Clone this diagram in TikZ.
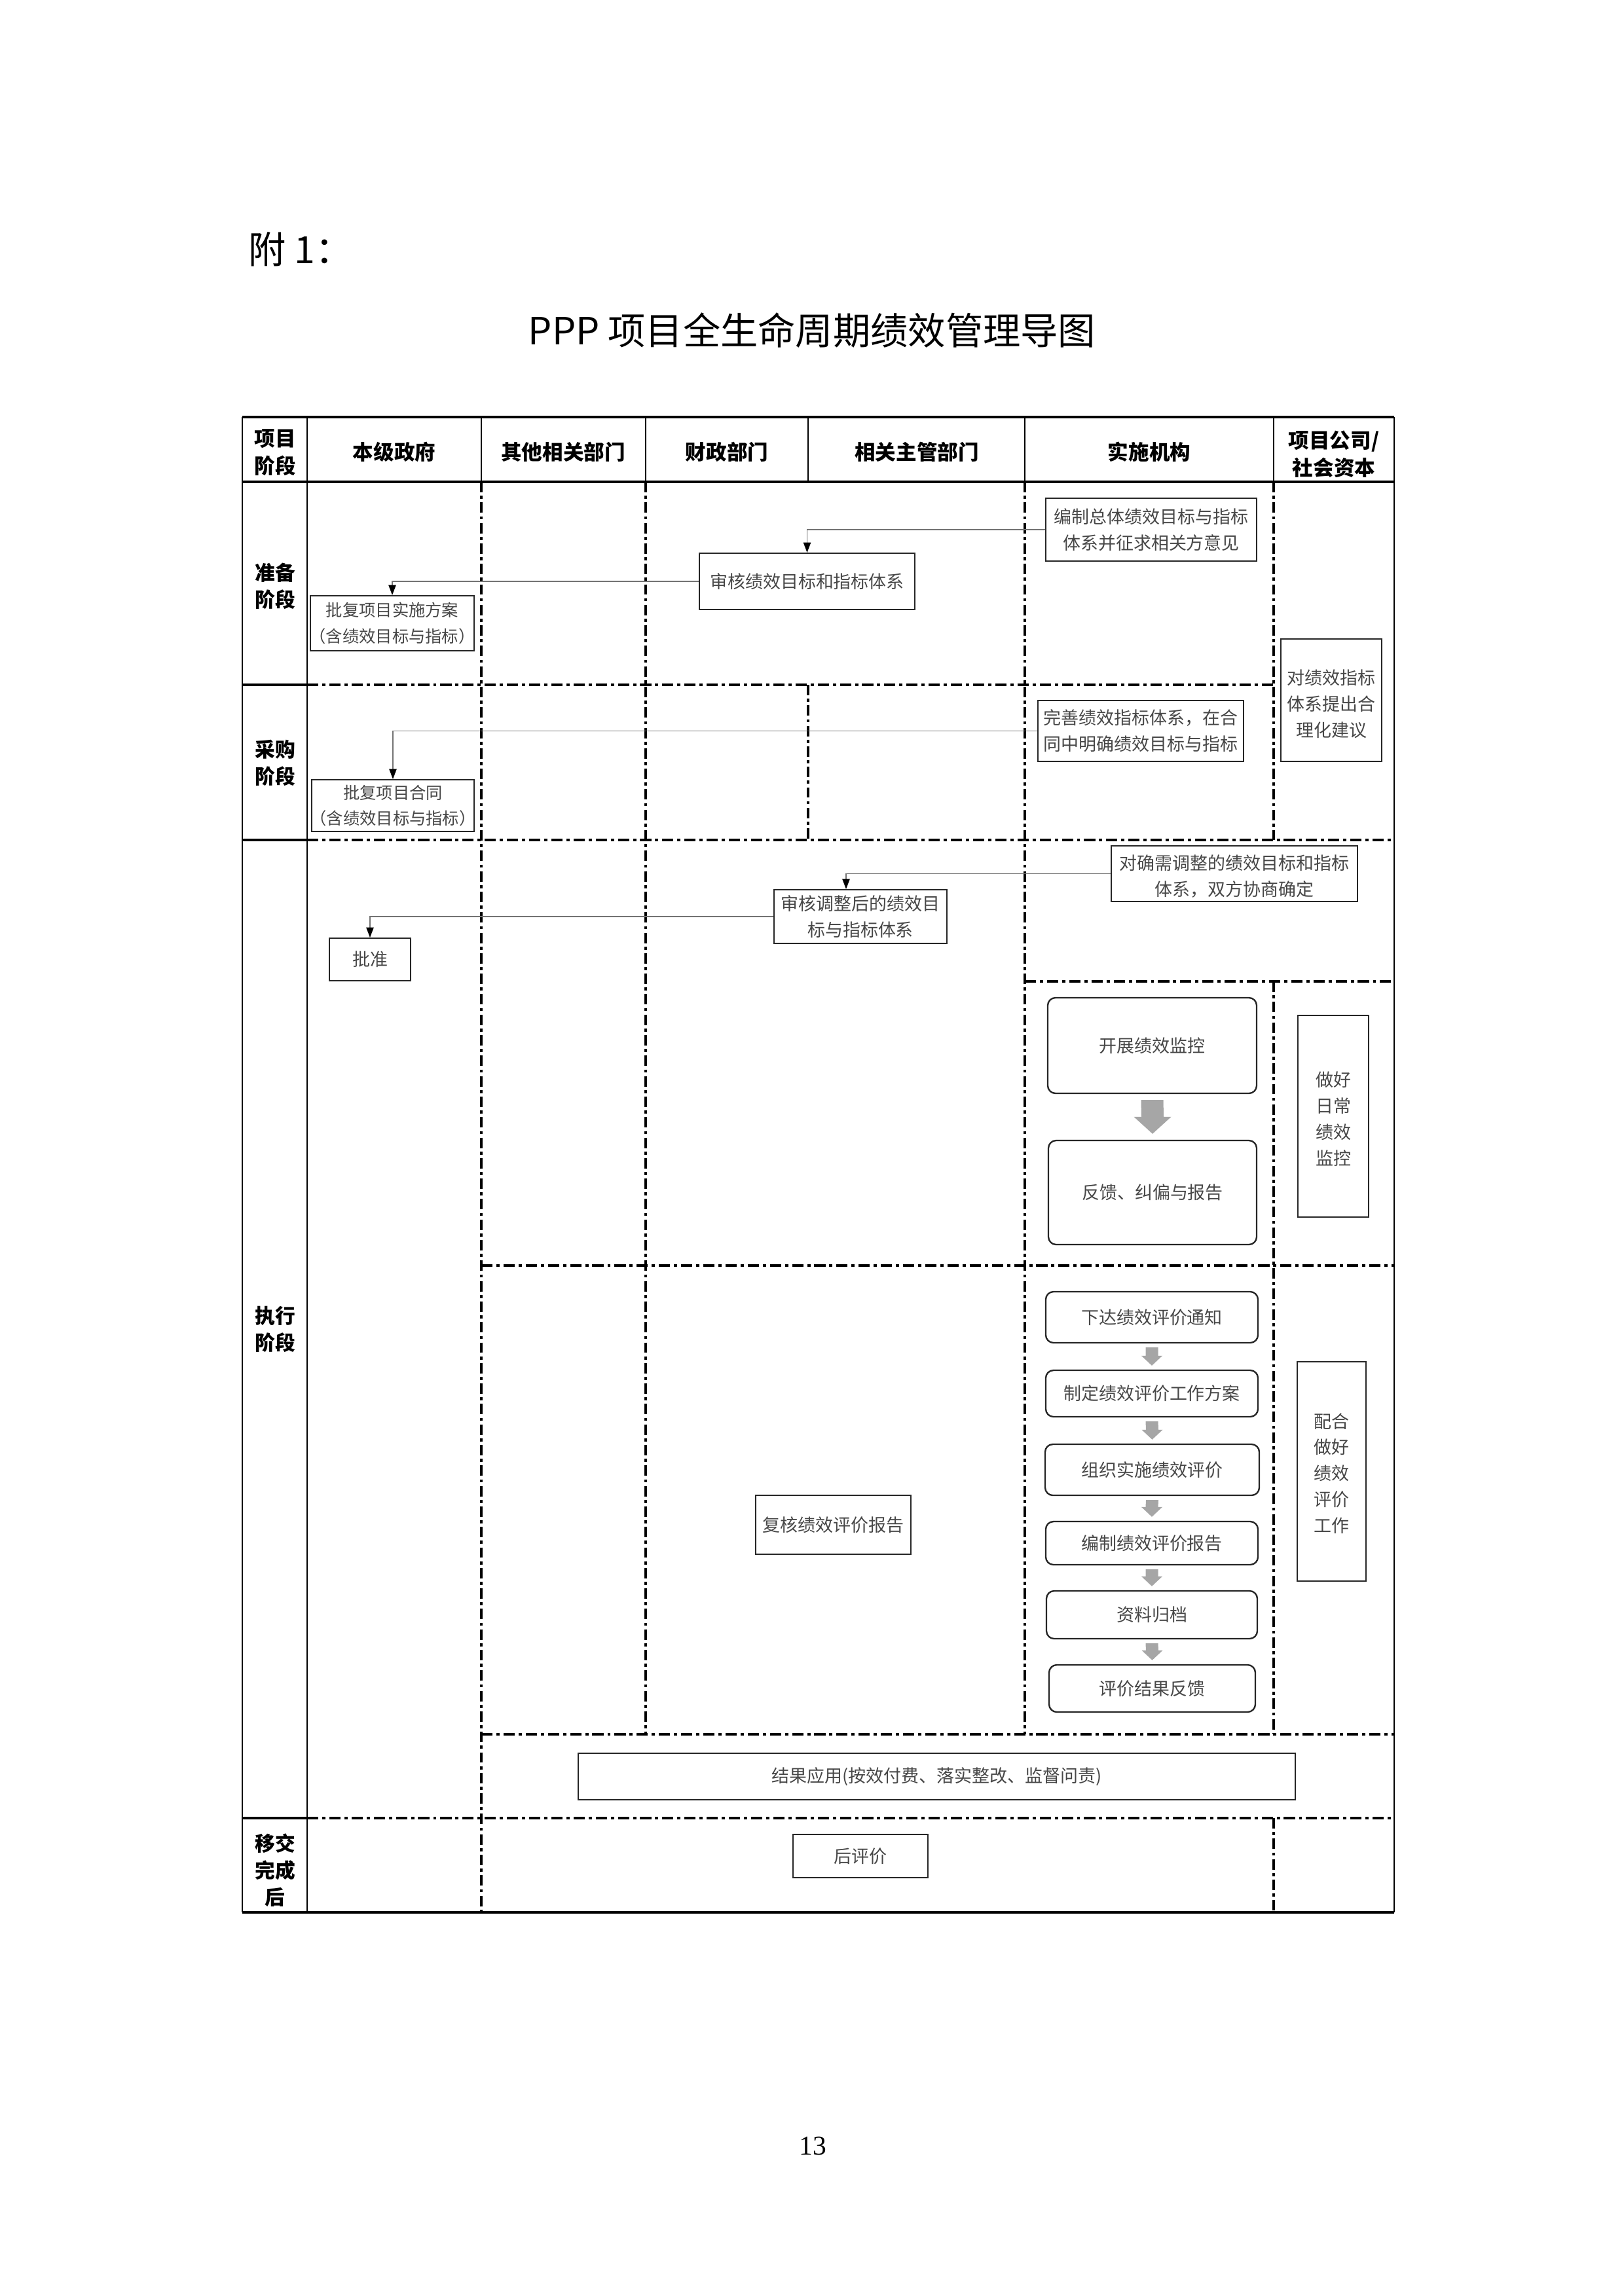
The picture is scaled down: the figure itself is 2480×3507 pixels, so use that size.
\documentclass[tikz,border=0pt]{standalone}
\usepackage{fontspec}
\setmainfont{Liberation Serif}
\newfontfamily\cjk{Noto Sans CJK SC}
\usetikzlibrary{fit,calc,arrows.meta}
\newcommand\myblk[6]{%
\fill[blk] ($(#1.south)+(-#3,#6)$) -- ($(#1.south)+(#3,#6)$) -- ($(#2.north)+(#3,-#5-#6)$) -- ($(#2.north)+(#4,-#5-#6)$) -- ($(#2.north)+(0,-#6)$) -- ($(#2.north)+(-#4,-#5-#6)$) -- ($(#2.north)+(-#3,-#5-#6)$) -- cycle;}
\begin{document}
\begin{tikzpicture}[x=0.0846774mm,y=-0.0846774mm,
  tline/.style={line width=0.28mm,black},
  vline/.style={line width=0.24mm,black},
  ddh/.style={line width=0.36mm,dash pattern=on 1.45mm off 0.5mm on 0.42mm off 0.5mm},
  ddv/.style={line width=0.28mm,dash pattern=on 1.35mm off 0.45mm on 0.4mm off 0.45mm},
  box/.style={draw=black!85,line width=0.16mm,fill=white,inner sep=0pt},
  rbox/.style={box,rounded corners=1.0mm,line width=0.2mm},
  bt/.style={font=\cjk\fontsize{6.5}{9.6}\selectfont,text=black!72,align=center,inner sep=0pt},
  hdr/.style={font=\cjk\bfseries\fontsize{7.6}{10.2}\selectfont,align=center,inner sep=0pt},
  stg/.style={font=\cjk\bfseries\fontsize{7.4}{9.9}\selectfont,align=center,inner sep=0pt},
  conn/.style={draw=black!55,line width=0.13mm,-{Triangle[width=0.95mm,length=1.3mm,color=black]}},
  blk/.style={fill=black!35}
]
\fill[white] (0,0) rectangle (2480,3507);
\useasboundingbox (0,0) rectangle (2480,3507);

% titles
\node[font=\cjk\fontsize{13.8}{16}\selectfont,anchor=west,inner sep=0pt] (fu) at (379,381) {附 1：};
\node[font=\cjk\fontsize{13.8}{16}\selectfont,inner sep=0pt] (title) at (1240,505) {PPP 项目全生命周期绩效管理导图};
\node[font=\fontsize{10}{12}\selectfont,inner sep=0pt] (pg) at (1241,3278) {13};

% dash-dot verticals
\draw[ddv] (735,736) -- (735,2921);
\draw[ddv] (986,736) -- (986,2649);
\draw[ddv] (1234,1046) -- (1234,1283);
\draw[ddv] (1565,736) -- (1565,2649);
\draw[ddv] (1945,736) -- (1945,1283);
\draw[ddv] (1945,1499) -- (1945,2649);
\draw[ddv] (1945,2777) -- (1945,2921);
% dash-dot horizontals
\draw[ddh] (469,1046) -- (1945,1046);
\draw[ddh] (469,1283) -- (2129,1283);
\draw[ddh] (1565,1499) -- (2129,1499);
\draw[ddh] (735,1933) -- (2129,1933);
\draw[ddh] (735,2649) -- (2129,2649);
\draw[ddh] (469,2777) -- (2129,2777);

% solid table lines
\draw[vline] (370,637) -- (370,2921);
\draw[vline] (469,637) -- (469,2921);
\draw[vline] (2129,637) -- (2129,2921);
\foreach \xx in {735,986,1234,1565,1945} \draw[line width=0.22mm] (\xx,637) -- (\xx,736);
\draw[tline] (370,637) -- (2129,637);
\draw[tline] (370,736) -- (2129,736);
\draw[tline] (370,2921) -- (2129,2921);
\draw[tline] (370,1046) -- (469,1046);
\draw[tline] (370,1283) -- (469,1283);
\draw[tline] (370,2777) -- (469,2777);

% header
\node[hdr] (h0) at (420,691) {项目\\阶段};
\node[hdr] (h1) at (602,690) {本级政府};
\node[hdr] (h2) at (860,690) {其他相关部门};
\node[hdr] (h3) at (1110,690) {财政部门};
\node[hdr] (h4) at (1400,690) {相关主管部门};
\node[hdr] (h5) at (1755,690) {实施机构};
\node[hdr] (h6) at (2037,694) {项目公司/\\社会资本};

% stage labels
\node[stg] (s1) at (420,895) {准备\\阶段};
\node[stg] (s2) at (420,1165) {采购\\阶段};
\node[stg] (s3) at (420,2030) {执行\\阶段};
\node[stg] (s4) at (420,2857) {移交\\完成\\后};

% boxes
\node[box,fit={(1597,761)(1919,857)}] (b1) {};
\node[bt] (t1) at (b1.center) {编制总体绩效目标与指标\\体系并征求相关方意见};
\node[box,fit={(1068,845)(1397,931)}] (b2) {};
\node[bt] (t2) at (b2.center) {审核绩效目标和指标体系};
\node[box,fit={(474,910)(724,994)}] (b3) {};
\node[bt,font=\cjk\fontsize{6.1}{9.6}\selectfont] (t3) at (b3.center) {批复项目实施方案\\（含绩效目标与指标）};
\node[box,fit={(1956,976)(2110,1163)}] (b4) {};
\node[bt] (t4) at ($(b4.center)+(0,6)$) {对绩效指标\\体系提出合\\理化建议};
\node[box,fit={(1585,1070)(1899,1163)}] (b5) {};
\node[bt] (t5) at (b5.center) {完善绩效指标体系，在合\\同中明确绩效目标与指标};
\node[box,fit={(476,1191)(724,1270)}] (b6) {};
\node[bt,font=\cjk\fontsize{6.1}{9.6}\selectfont] (t6) at (b6.center) {批复项目合同\\（含绩效目标与指标）};
\node[box,fit={(1697,1292)(2073,1377)}] (b7) {};
\node[bt] (t7) at ($(b7.center)+(0,4)$) {对确需调整的绩效目标和指标\\体系，双方协商确定};
\node[box,fit={(1182,1359)(1446,1441)}] (b8) {};
\node[bt] (t8) at (b8.center) {审核调整后的绩效目\\标与指标体系};
\node[box,fit={(503,1433)(627,1498)}] (b9) {};
\node[bt] (t9) at (b9.center) {批准};
\node[rbox,fit={(1600,1524)(1919,1670)}] (b10) {};
\node[bt] (t10) at (b10.center) {开展绩效监控};
\node[rbox,fit={(1601,1742)(1919,1901)}] (b11) {};
\node[bt] (t11) at (b11.center) {反馈、纠偏与报告};
\node[box,fit={(1982,1551)(2090,1859)}] (b12) {};
\node[bt] (t12) at ($(b12.center)+(0,4)$) {做好\\日常\\绩效\\监控};
\node[rbox,fit={(1597,1973)(1921,2051)}] (b13) {};
\node[bt] (t13) at (b13.center) {下达绩效评价通知};
\node[rbox,fit={(1597,2093)(1921,2164)}] (b14) {};
\node[bt] (t14) at (b14.center) {制定绩效评价工作方案};
\node[rbox,fit={(1596,2206)(1923,2284)}] (b15) {};
\node[bt] (t15) at (b15.center) {组织实施绩效评价};
\node[rbox,fit={(1597,2324)(1921,2390)}] (b16) {};
\node[bt] (t16) at (b16.center) {编制绩效评价报告};
\node[rbox,fit={(1598,2430)(1920,2503)}] (b17) {};
\node[bt] (t17) at (b17.center) {资料归档};
\node[rbox,fit={(1602,2543)(1917,2615)}] (b18) {};
\node[bt] (t18) at (b18.center) {评价结果反馈};
\node[box,fit={(1981,2080)(2086,2415)}] (b19) {};
\node[bt] (t19) at ($(b19.center)+(0,3)$) {配合\\做好\\绩效\\评价\\工作};
\node[box,fit={(1154,2284)(1391,2374)}] (b20) {};
\node[bt] (t20) at (b20.center) {复核绩效评价报告};
\node[box,fit={(883,2678)(1978,2749)}] (b21) {};
\node[bt] (t21) at (b21.center) {结果应用(按效付费、落实整改、监督问责)};
\node[box,fit={(1211,2802)(1417,2868)}] (b22) {};
\node[bt] (t22) at (b22.center) {后评价};

% connectors
\draw[conn] (b1.west) -| (b2.north);
\draw[conn] (b2.west) -| (b3.north);
\draw[conn] (b5.west) -| (b6.north);
\draw[conn] (b7.west) -| ($(b8.north)+(-22,0)$);
\draw[conn] (b8.west) -| (b9.north);

% block arrows
\myblk{b10}{b11}{17}{28.5}{26}{9}
\myblk{b13}{b14}{9.5}{16}{15}{6}
\myblk{b14}{b15}{9.5}{16}{15}{6}
\myblk{b15}{b16}{9.5}{16}{15}{6}
\myblk{b16}{b17}{9.5}{16}{15}{6}
\myblk{b17}{b18}{9.5}{16}{15}{6}
\end{tikzpicture}
\end{document}
